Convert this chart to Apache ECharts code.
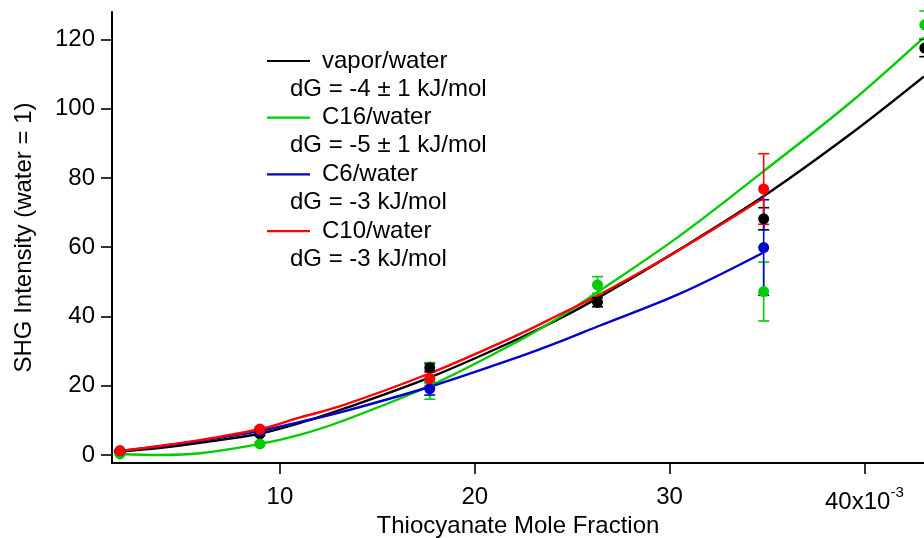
<!DOCTYPE html>
<html><head><meta charset="utf-8">
<script src="https://cdn.jsdelivr.net/npm/echarts@6/dist/echarts.min.js"></script>
<style>html,body{margin:0;padding:0;background:#fff}#c{width:924px;height:538px}</style>
</head><body><div id="c"></div>
<script>
// ---- data ----
const seriesNames = ['vapor/water', 'C16/water', 'C6/water', 'C10/water'];
const dGTexts = ['dG = -4 ± 1 kJ/mol', 'dG = -5 ± 1 kJ/mol', 'dG = -3 kJ/mol', 'dG = -3 kJ/mol'];
const colors = ['#000000', '#00cc00', '#0000cc', '#ff0000'];

const vaporX = [1.79, 8.97, 17.69, 26.3, 34.83, 43.1];
const vaporY = [1.0, 6.1, 25.2, 44.1, 68.2, 117.5];
const vaporErr = [0.3, 0.5, 1.2, 1.3, 3.2, 2.5];

const c16X = [1.79, 8.97, 17.69, 26.3, 34.83, 43.1];
const c16Y = [0.3, 3.2, 21.4, 49.1, 47.2, 124.2];
const c16Err = [0.3, 0.5, 5.3, 2.4, 8.5, 4.0];

const c6X = [1.79, 8.97, 17.69, 34.83];
const c6Y = [1.2, 7.0, 19.1, 59.9];
const c6Err = [0.3, 0.5, 1.8, 13.8];

const c10X = [1.79, 8.97, 17.69, 34.83];
const c10Y = [1.2, 7.5, 22.1, 76.8];
const c10Err = [0.3, 0.5, 2.1, 10.2];

// fitted curves (read at sample positions)
const fitX = [1.79, 3.8, 5.9, 9.0, 11.0, 13.1, 17.7, 22.3, 24.4, 26.3, 30.5, 34.8, 39.2, 43.06];
const vaporFit = [1.0, 2.0, 3.5, 6.2, 9.2, 13.0, 22.4, 33.7, 39.5, 45.3, 59.3, 74.6, 92.3, 109.3];
const c16Fit = [0.3, 0.0, 0.5, 3.2, 5.8, 9.6, 20.0, 33.1, 40.0, 47.0, 63.2, 81.8, 101.4, 120.6];
const c6Fit = [1.2, 2.5, 4.1, 7.0, 9.5, 12.3, 19.7, 28.4, 32.8, 37.1, 46.5, 58.4];
const c10Fit = [1.2, 2.6, 4.3, 7.5, 10.8, 14.1, 23.6, 34.9, 40.7, 46.0, 59.2, 74.1];

const xTicks = [10, 20, 30, 40];
const yTicks = [0, 20, 40, 60, 80, 100, 120];

// ---- chart ----
const FONT = '"Liberation Sans", Arial, sans-serif';
const chart = echarts.init(document.getElementById('c'), null, {renderer: 'canvas'});

const pts = [[vaporX, vaporY, vaporErr], [c16X, c16Y, c16Err], [c6X, c6Y, c6Err], [c10X, c10Y, c10Err]];
const fits = [vaporFit, c16Fit, c6Fit, c10Fit];

function errSeries(xs, ys, es, color, z) {
  return {
    type: 'custom', z: z, silent: true, clip: false, xAxisIndex: 0, yAxisIndex: 0,
    data: xs.map((x, i) => [x, ys[i] - es[i], ys[i] + es[i]]),
    encode: {x: 0, y: [1, 2]},
    renderItem(params, api) {
      const lo = api.coord([api.value(0), api.value(1)]);
      const hi = api.coord([api.value(0), api.value(2)]);
      const w = 5.5;
      const style = {stroke: color, lineWidth: 1.6};
      return {type: 'group', children: [
        {type: 'line', shape: {x1: lo[0], y1: lo[1], x2: hi[0], y2: hi[1]}, style: style},
        {type: 'line', shape: {x1: lo[0] - w, y1: lo[1], x2: lo[0] + w, y2: lo[1]}, style: style},
        {type: 'line', shape: {x1: hi[0] - w, y1: hi[1], x2: hi[0] + w, y2: hi[1]}, style: style}
      ]};
    }
  };
}

const series = [];
fits.forEach((f, i) => {
  series.push({
    type: 'line', name: seriesNames[i] + ' fit', z: 3 + i * 0.1, xAxisIndex: 0, yAxisIndex: 0,
    data: f.map((v, k) => [fitX[k], v]),
    smooth: 0.35, showSymbol: false, symbol: 'none', silent: true,
    lineStyle: {color: colors[i], width: 2.4}
  });
});
pts.forEach((p, i) => {
  series.push(errSeries(p[0], p[1], p[2], colors[i], 4 + i * 0.1));
  series.push({
    type: 'scatter', name: seriesNames[i], z: 5 + i * 0.1, silent: true, xAxisIndex: 0, yAxisIndex: 0,
    data: p[0].map((x, k) => [x, p[1][k]]),
    symbol: 'circle', symbolSize: 11, clip: false,
    itemStyle: {color: colors[i], opacity: 1}
  });
});

// legend as graphic elements
const graphic = [];
seriesNames.forEach((n, i) => {
  const y0 = 61 + i * 56.7;
  graphic.push({type: 'line', shape: {x1: 267, y1: y0, x2: 310, y2: y0}, style: {stroke: colors[i], lineWidth: 2.2}, z: 10});
  graphic.push({type: 'text', x: 322, y: y0, style: {text: n, font: '24px ' + FONT, fill: '#000', verticalAlign: 'middle'}, z: 10});
  graphic.push({type: 'text', x: 290, y: y0 + 28, style: {text: dGTexts[i], font: '24px ' + FONT, fill: '#000', verticalAlign: 'middle'}, z: 10});
});

const xLabelCfg = {
  customValues: xTicks, fontSize: 24, color: '#000', fontFamily: FONT, margin: 22,
  verticalAlign: 'top', lineHeight: 24,
  formatter: v => (v === 40 ? '{a|40x10}{b|-3}' : String(v)),
  rich: {
    a: {fontSize: 24, fontFamily: FONT, color: '#000', padding: [10, 0, 0, 0]},
    b: {fontSize: 15, fontFamily: FONT, color: '#000', verticalAlign: 'top'}
  }
};

chart.setOption({
  animation: false,
  backgroundColor: '#ffffff',
  grid: {left: 112, right: 0, top: 12, bottom: 75, outerBoundsMode: 'none', containLabel: false},
  xAxis: [{
    type: 'value', min: 1.38, max: 43.06, position: 'bottom',
    name: 'Thiocyanate Mole Fraction', nameLocation: 'middle', nameGap: 51, nameMoveOverlap: false,
    nameTextStyle: {fontSize: 24, color: '#000', fontFamily: FONT},
    axisLine: {show: true, onZero: false, lineStyle: {color: '#000', width: 2}},
    axisTick: {show: true, inside: false, length: 11, customValues: xTicks, lineStyle: {color: '#000', width: 1.6}},
    axisLabel: {show: false},
    splitLine: {show: false}
  }, {
    type: 'value', min: 1.38, max: 43.06, position: 'bottom', offset: 0,
    axisLine: {show: false, onZero: false},
    axisTick: {show: false},
    axisLabel: xLabelCfg,
    splitLine: {show: false}
  }],
  yAxis: {
    type: 'value', min: -2.31, max: 127.9,
    name: 'SHG Intensity (water = 1)', nameLocation: 'middle', nameGap: 76, nameRotate: 90, nameMoveOverlap: false,
    nameTextStyle: {fontSize: 24, color: '#000', fontFamily: FONT},
    axisLine: {show: true, onZero: false, lineStyle: {color: '#000', width: 2}},
    axisTick: {show: true, inside: false, length: 11, customValues: yTicks, lineStyle: {color: '#000', width: 1.6}},
    axisLabel: {customValues: yTicks, fontSize: 24, color: '#000', fontFamily: FONT, margin: 17},
    splitLine: {show: false}
  },
  graphic: graphic,
  series: series
});
</script>
</body></html>
